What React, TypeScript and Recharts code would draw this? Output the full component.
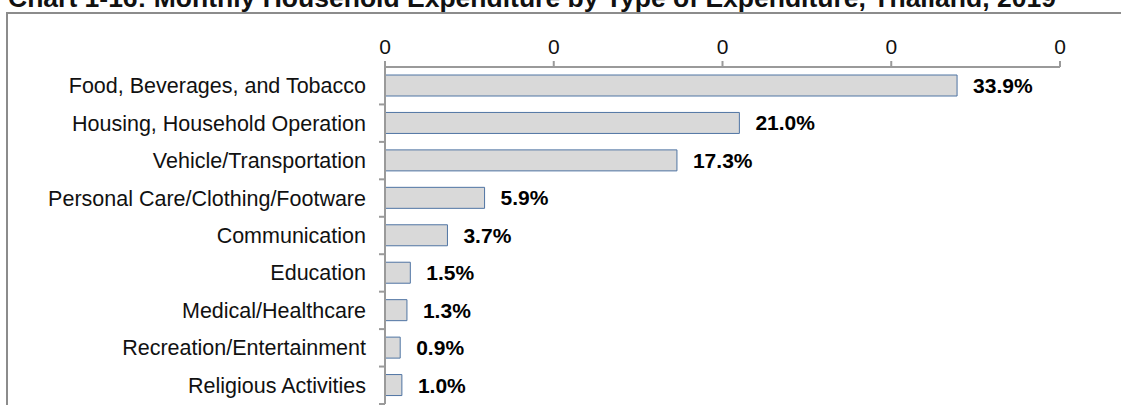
import React from 'react';
import { BarChart, Bar, XAxis, YAxis, LabelList } from 'recharts';

const categories = [
  'Food, Beverages, and Tobacco',
  'Housing, Household Operation',
  'Vehicle/Transportation',
  'Personal Care/Clothing/Footware',
  'Communication',
  'Education',
  'Medical/Healthcare',
  'Recreation/Entertainment',
  'Religious Activities',
];

const shares = [0.339, 0.21, 0.173, 0.059, 0.037, 0.015, 0.013, 0.009, 0.01];

const axisTicks = [0, 0.1, 0.2, 0.3, 0.4];

const data = categories.map((name, i) => ({ name, value: shares[i] }));

const FONT = 'Arial, "Liberation Sans", sans-serif';
const AXIS_GREY = '#9a9a9a';

const W = 1121;
const H = 410;
const MARGIN = { top: 0, right: 61, bottom: 6, left: 0 };
const X_AXIS_H = 67;
const Y_AXIS_W = 385;
const BAND = (H - MARGIN.top - MARGIN.bottom - X_AXIS_H) / categories.length;

// category label plus a tick on the band's lower boundary (Excel style)
function CategoryTick(props: any) {
  const { x, y, payload } = props;
  const lx = x + 13;
  const by = y + BAND / 2;
  return (
    <g>
      <line x1={lx} x2={lx + 6} y1={by} y2={by} stroke={AXIS_GREY} strokeWidth={2} />
      <text x={x} y={y} dy="0.35em" textAnchor="end" fontSize={21.5} fill="#111" fontFamily={FONT}>
        {payload.value}
      </text>
    </g>
  );
}

export default function App() {
  return (
    <div style={{ position: 'fixed', left: 0, top: 0, width: W, height: 405, overflow: 'hidden', background: '#fff', fontFamily: FONT }}>
      <div
        style={{
          position: 'absolute',
          left: 8,
          top: -17,
          fontSize: 26.5,
          fontWeight: 'bold',
          color: '#111',
          whiteSpace: 'nowrap',
        }}
      >
        Chart 1-16: Monthly Household Expenditure by Type of Expenditure, Thailand, 2019
      </div>
      <div
        style={{
          position: 'absolute',
          left: 6,
          top: 12,
          width: W,
          height: 460,
          borderTop: '2px solid #8c8c8c',
          borderLeft: '2px solid #8c8c8c',
        }}
      />
      <div style={{ position: 'absolute', left: 0, top: 0 }}>
        <BarChart width={W} height={H} data={data} layout="vertical" margin={MARGIN} barSize={21}>
          <XAxis
            type="number"
            orientation="top"
            domain={[0, 0.4]}
            ticks={axisTicks}
            tickFormatter={(v: number) => v.toFixed(0)}
            height={X_AXIS_H}
            tickSize={6}
            tickMargin={7}
            axisLine={{ stroke: AXIS_GREY, strokeWidth: 2 }}
            tickLine={{ stroke: AXIS_GREY, strokeWidth: 2 }}
            tick={{ fontSize: 21, fill: '#111', fontFamily: FONT }}
          />
          <YAxis
            type="category"
            dataKey="name"
            width={Y_AXIS_W}
            tickSize={6}
            tickMargin={13}
            tickLine={false}
            axisLine={{ stroke: AXIS_GREY, strokeWidth: 2 }}
            tick={<CategoryTick />}
            interval={0}
          />
          <Bar dataKey="value" fill="#d9d9d9" stroke="#4f74a3" strokeWidth={1} isAnimationActive={false}>
            <LabelList
              dataKey="value"
              position="right"
              offset={16}
              formatter={(v: any) => `${(Number(v) * 100).toFixed(1)}%`}
              style={{ fontSize: 21, fontWeight: 'bold', fill: '#000', fontFamily: FONT }}
            />
          </Bar>
        </BarChart>
      </div>
    </div>
  );
}
